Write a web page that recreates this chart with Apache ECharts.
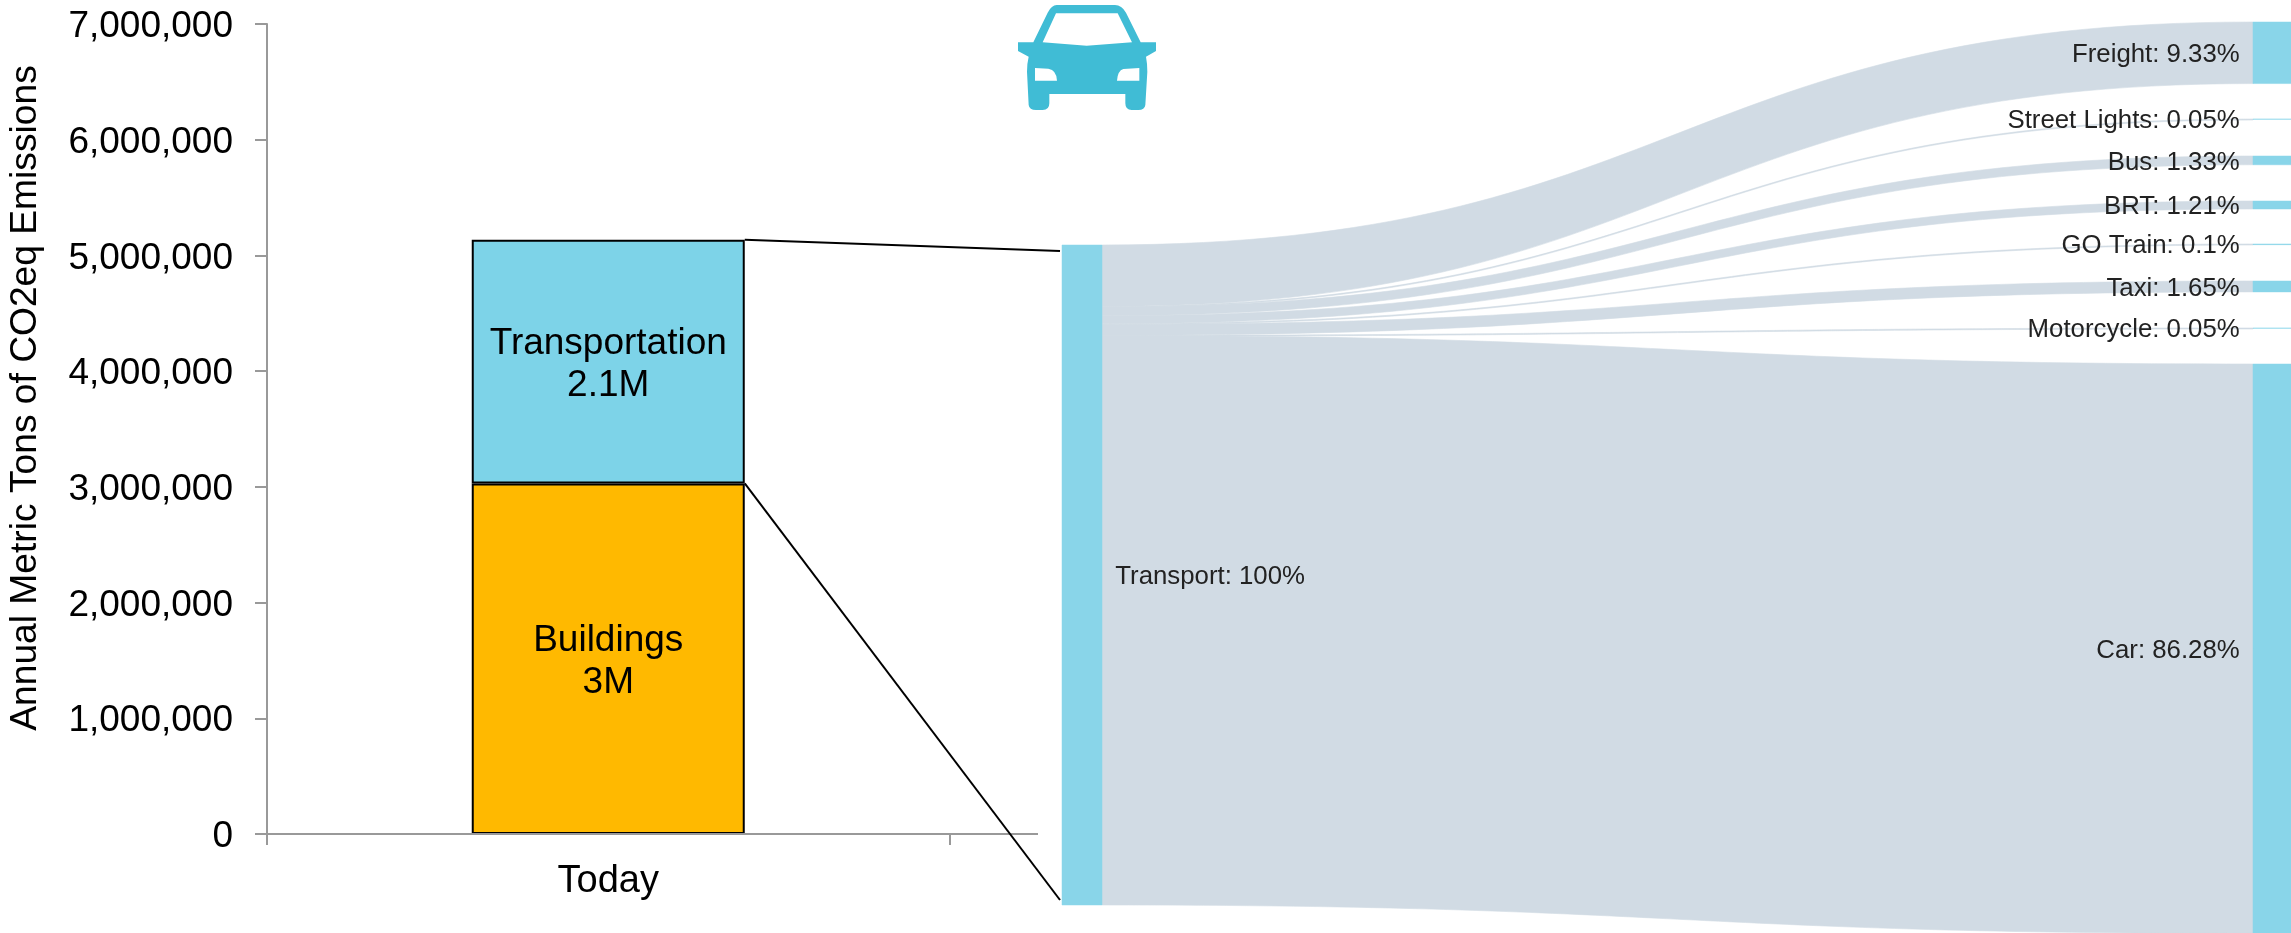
<!DOCTYPE html>
<html><head><meta charset="utf-8">
<style>html,body{margin:0;padding:0;background:#fff}#c{width:2291px;height:933px}</style>
<script src="https://cdn.jsdelivr.net/npm/echarts@6/dist/echarts.min.js"></script>
</head><body><div id="c"></div>
<script>
const barCategories = ['Today', ''];
const buildingsValues = [3030000, null];
const transportationValues = [2105000, null];
const barLabels = { Buildings: '3M', Transportation: '2.1M' };
const sourceName = 'Transport';
const sourceShare = 100;
const targetNames = ['Freight', 'Street Lights', 'Bus', 'BRT', 'GO Train', 'Taxi', 'Motorcycle', 'Car'];
const targetShares = [9.33, 0.05, 1.33, 1.21, 0.1, 1.65, 0.05, 86.28];

// layout (pixels)
const grid = { left: 267, top: 24, width: 1365, height: 810 };
const axisLineEnd = 1038;
const barWidth = 273;
const sk = { left: 1062, top: 245, width: 1231, height: 660, nodeWidth: 40 };
const targetTops = [22, 119, 156, 201, 244, 281, 328, 364];

const font = '"Liberation Sans", Arial, sans-serif';
const nodeLabel = (n, s) => n + ': ' + s + '%';
const nodes = [{
  name: nodeLabel(sourceName, sourceShare),
  label: { position: 'right' }
}].concat(targetNames.map((n, i) => ({
  name: nodeLabel(n, targetShares[i]),
  localY: (targetTops[i] - sk.top) / sk.height,
  label: { position: 'left' }
})));
const links = targetNames.map((n, i) => ({
  source: nodes[0].name, target: nodeLabel(n, targetShares[i]), value: targetShares[i]
}));

const carPath = 'M320,15 L495,15 Q515,15 528,38 L572,127 L618,127 L618,153 L588,170 Q592,190 592,215 L586,315 Q584,330 565,330 L545,330 Q526,330 526,310 L526,282 L298,282 L298,310 Q298,330 278,330 L258,330 Q238,330 236,315 L231,215 Q231,190 236,170 L204,153 L204,127 L250,127 L293,38 Q305,15 320,15 Z ' +
  'M318,40 L278,127 L410,137 L546,127 L503,40 Z ' +
  'M255,204 L255,242 L321,242 Q320,210 295,206 Z ' +
  'M568,204 L520,207 Q503,212 501,242 L568,242 Z';
echarts.graphic.registerShape('carIcon', echarts.graphic.extendPath(carPath, {}));

const chart = echarts.init(document.getElementById('c'), null, { renderer: 'canvas' });
const barLabel = name => ({
  show: true, position: 'inside', offset: [0, 3], color: '#000', fontFamily: font, fontSize: 37, lineHeight: 42,
  formatter: () => name + '\n' + barLabels[name]
});
const stop = (axisLineEnd - grid.left) / grid.width;
chart.setOption({
  animation: false,
  backgroundColor: '#fff',
  textStyle: { fontFamily: font },
  grid: Object.assign({ containLabel: false, outerBoundsMode: 'none' }, grid),
  xAxis: {
    type: 'category', data: barCategories, z: 3,
    axisLine: { lineStyle: { width: 2, color: new echarts.graphic.LinearGradient(grid.left, 0, grid.left + grid.width, 0, [
      { offset: 0, color: '#999' }, { offset: stop, color: '#999' },
      { offset: stop, color: 'rgba(255,255,255,0)' }, { offset: 1, color: 'rgba(255,255,255,0)' }
    ], true) } },
    axisTick: { show: true, length: 11, lineStyle: { color: '#999', width: 2 } },
    axisLabel: { color: '#000', fontSize: 38, fontFamily: font, margin: 29 }
  },
  yAxis: {
    type: 'value', min: 0, max: 7000000, interval: 1000000,
    name: 'Annual Metric Tons of CO2eq Emissions',
    nameLocation: 'middle', nameGap: 223, nameRotate: 90,
    nameTextStyle: { color: '#000', fontSize: 37.2, fontFamily: font, padding: [0, 0, 0, 62] },
    axisLine: { show: true, lineStyle: { color: '#999', width: 2 } },
    axisTick: { show: true, length: 12, lineStyle: { color: '#999', width: 2 } },
    axisLabel: { color: '#000', margin: 34,
      formatter: v => '{t|' + v.toLocaleString('en-US') + '}',
      rich: { t: { color: '#000', fontSize: 37, fontFamily: font, padding: [6, 0, 0, 0] } } },
    splitLine: { show: false }
  },
  series: [
    { type: 'bar', name: 'Buildings', stack: 't', barWidth, data: buildingsValues,
      itemStyle: { color: '#FFB900', borderColor: '#000', borderWidth: 2 }, label: barLabel('Buildings') },
    { type: 'bar', name: 'Transportation', stack: 't', barWidth, data: transportationValues,
      itemStyle: { color: '#7DD3E8', borderColor: '#000', borderWidth: 2 }, label: barLabel('Transportation') },
    { type: 'sankey', z: 4, left: sk.left, top: sk.top, width: sk.width, height: sk.height,
      nodeWidth: sk.nodeWidth, nodeGap: 0, layoutIterations: 0, draggable: false,
      data: nodes, links,
      emphasis: { disabled: true },
      itemStyle: { color: '#89D5E9', borderColor: '#89D5E9', borderWidth: 0.5 },
      lineStyle: { color: '#D1DBE4', borderColor: '#D1DBE4', borderWidth: 0.6, opacity: 1, curveness: 0.5 },
      label: { color: '#222', fontSize: 25.8, fontFamily: font, distance: 13, offset: [0, 2] }
    }
  ]
});

const cx = chart.convertToPixel({ xAxisIndex: 0 }, barCategories[0]);
const barRight = cx + barWidth / 2;
const topY = chart.convertToPixel({ yAxisIndex: 0 }, buildingsValues[0] + transportationValues[0]);
const midY = chart.convertToPixel({ yAxisIndex: 0 }, buildingsValues[0]);
const lineEnd = sk.left - 2;
chart.setOption({
  graphic: [
    { type: 'line', silent: true, z: 10, shape: { x1: barRight, y1: topY, x2: lineEnd, y2: sk.top + 6 }, style: { stroke: '#000', lineWidth: 2 } },
    { type: 'line', silent: true, z: 10, shape: { x1: barRight, y1: midY, x2: lineEnd, y2: sk.top + sk.height - 5 }, style: { stroke: '#000', lineWidth: 2 } },
    { type: 'carIcon', silent: true, z: 10, x: 950, y: 0, scaleX: 1 / 3, scaleY: 1 / 3, style: { fill: '#40BCD5' } }
  ]
});
</script></body></html>
